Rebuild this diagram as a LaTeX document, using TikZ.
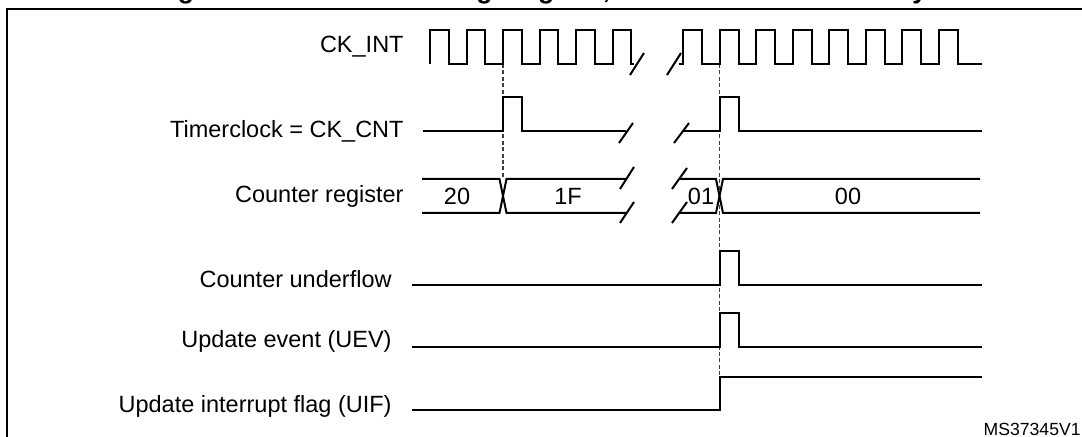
\documentclass[tikz,border=0pt]{standalone}
\usepackage{fontspec}
\setmainfont{Liberation Sans}
\begin{document}
\begin{tikzpicture}[x=0.5pt,y=-0.5pt,
  wave/.style={line width=1pt, line join=miter, line cap=butt},
  brk/.style={line width=1pt},
  guide/.style={line width=0.9pt, draw=black!75, dash pattern=on 2pt off 1.2pt},
  sig/.style={font=\fontsize{11.75}{14}\selectfont, anchor=base east, inner sep=0pt},
  val/.style={font=\fontsize{11.75}{14}\selectfont, inner sep=0pt},
]
\useasboundingbox (0,0) rectangle (1082,437);
\begin{scope}
\clip (0,0) rectangle (1082,437);
\draw[line width=1.2pt] (7,9) rectangle (1100,460);
\node[anchor=base west, inner sep=0pt, font=\bfseries\fontsize{13.25}{16}\selectfont] (title) at (154,-1.5) {Figure 126. Counter timing diagram, internal clock divided by 1};
\end{scope}

% labels
\node[sig] (lck) at (404,53) {CK\_INT};
\node[sig] (ltc) at (404,138) {Timerclock = CK\_CNT};
\node[sig] (lcr) at (404,203) {Counter register};
\node[sig] (lcu) at (392,288) {Counter underflow};
\node[sig] (lue) at (392,348) {Update event (UEV)};
\node[sig] (lui) at (392,413) {Update interrupt flag (UIF)};

% guides
\draw[guide] (503,64) -- (503,179);
\draw[guide] (719.5,64) -- (719.5,377);

% CK_INT
\draw[wave] (430,64) foreach \k in {1,...,5} { -- ++(0,-34) -- ++(18.5,0) -- ++(0,34) -- ++(18,0) }
  -- ++(0,-34) -- ++(18.5,0) -- ++(0,34) -- ++(3,0);
\draw[brk] (630,75) -- (644,53);
\draw[brk] (667,75) -- (681,53);
\draw[wave] (679,64) -- (683,64) foreach \k in {1,...,7} { -- ++(0,-34) -- ++(19,0) -- ++(0,34) -- ++(17.5,0) }
  -- ++(0,-34) -- ++(19,0) -- ++(0,34) -- (982,64);

% Timerclock
\draw[wave] (423,131) -- (503,131) -- (503,97) -- (522,97) -- (522,131) -- (626,131);
\draw[brk] (619,143) -- (633,123);
\draw[brk] (674,143) -- (689,123);
\draw[wave] (682,131) -- (719.5,131) -- (719.5,97) -- (739,97) -- (739,131) -- (982,131);

% Counter register
\draw[wave] (422,179) -- (499.5,179) -- (506.5,213) -- (626,213);
\draw[wave] (422,213) -- (499.5,213) -- (506.5,179) -- (626,179);
\draw[brk] (620,189) -- (634,167);
\draw[brk] (620,223) -- (634,202);
\draw[brk] (672,189) -- (687,168);
\draw[brk] (672,223) -- (687,202);
\draw[wave] (680,179) -- (716,179) -- (723,213) -- (980,213);
\draw[wave] (680,213) -- (716,213) -- (723,179) -- (980,179);
\node[val] (v20) at (457,196) {20};
\node[val] (v1f) at (568,196) {1F};
\node[val] (v01) at (701,196) {01};
\node[val] (v00) at (848,196) {00};

% Counter underflow
\draw[wave] (412,285) -- (719.5,285) -- (719.5,251) -- (739,251) -- (739,285) -- (982,285);
% UEV
\draw[wave] (412,347) -- (719.5,347) -- (719.5,313) -- (739,313) -- (739,347) -- (982,347);
% UIF
\draw[wave] (412,410) -- (719.5,410) -- (719.5,377) -- (982,377);

\node[anchor=base east, inner sep=0pt, font=\fontsize{8.8}{10}\selectfont] (ms) at (1081,436) {MS37345V1};
\end{tikzpicture}
\end{document}
